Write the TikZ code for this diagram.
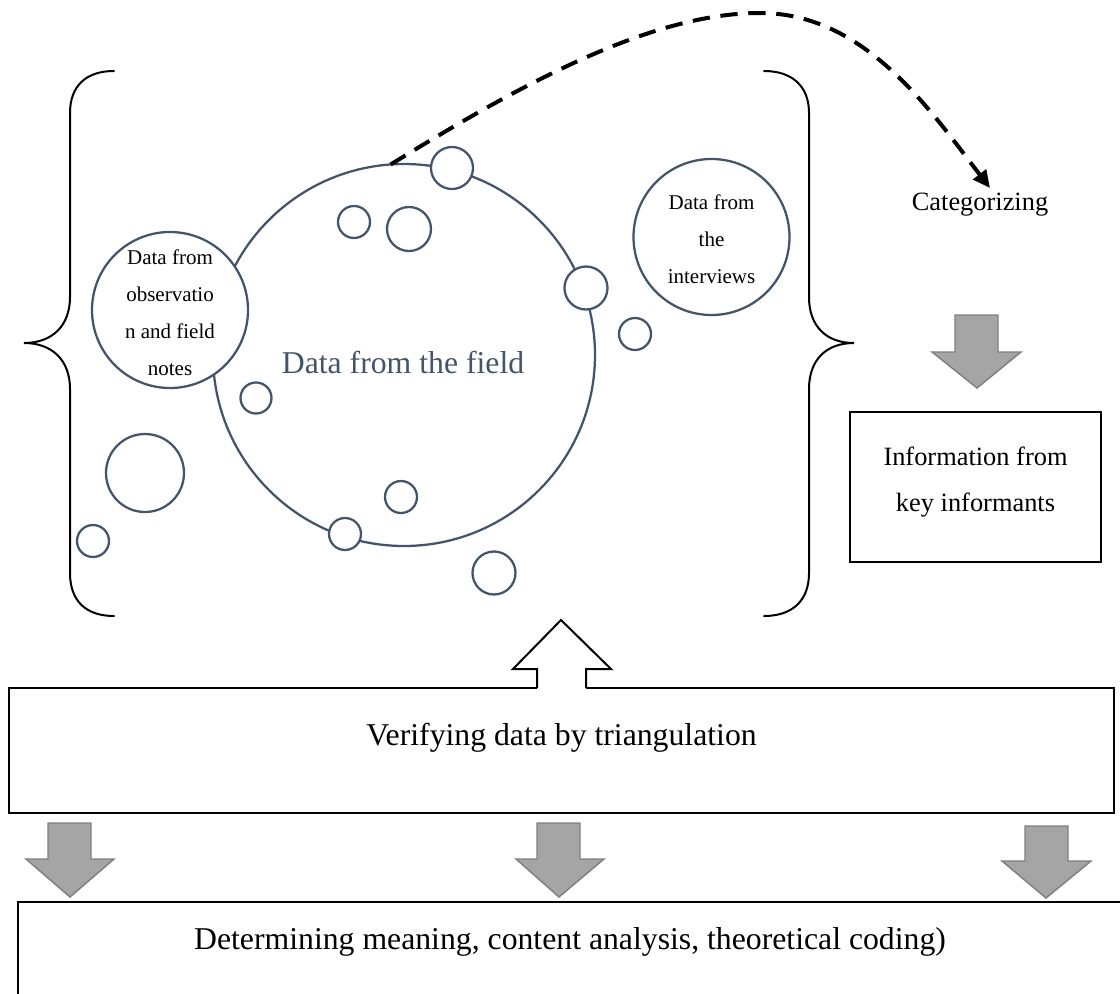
\documentclass[tikz,border=0pt]{standalone}
\usepackage{fontspec}
\setmainfont{Liberation Serif}
\usetikzlibrary{arrows.meta}
\definecolor{slate}{HTML}{44546A}
\definecolor{arrowfill}{HTML}{A5A5A5}
\definecolor{arrowedge}{HTML}{7F7F7F}
\begin{document}
\begin{tikzpicture}[x=0.75pt,y=-0.75pt,
  bubble/.style={circle,draw=slate,line width=1.7pt,fill=white,inner sep=0pt,outer sep=0pt,minimum size=#1*1.5pt},
  bracepath/.style={draw=black,line width=1.5pt,line cap=round},
  blockarrow/.style={fill=arrowfill,draw=arrowedge,line width=1.1pt,line join=miter},
  frame/.style={rectangle,draw=black,fill=white,inner sep=0pt,outer sep=0pt},
  smalltext/.style={font=\fontsize{15.75}{27.75}\selectfont,align=center,inner sep=0pt},
  midtext/.style={font=\fontsize{19.8}{34.5}\selectfont,align=center,inner sep=0pt},
  bigtext/.style={font=\fontsize{23.8}{28}\selectfont,align=center,inner sep=0pt},
  dashconn/.style={line width=3pt,dash pattern=on 13pt off 8pt,-{Triangle[length=13pt,width=12pt]}}]
\useasboundingbox (0,0) rectangle (1120,993);
\clip (0,0) rectangle (1120,993);

% braces around the field data
\path[bracepath] (114,71) .. controls (86,71) and (70,86) .. (70,113) -- (70,297)
  .. controls (70,326) and (52,343) .. (24,343)
  .. controls (52,343) and (70,360) .. (70,389) -- (70,573)
  .. controls (70,601) and (86,616) .. (114,616);
\path[bracepath] (764,71) .. controls (792,71) and (809,86) .. (809,113) -- (809,297)
  .. controls (809,326) and (826,343) .. (854,343)
  .. controls (826,343) and (809,360) .. (809,389) -- (809,573)
  .. controls (809,601) and (792,616) .. (764,616);

% the field and the data bubbles
\node[bubble=191] (field) at (404,355) {};
\node[bubble=21]   (b1)  at (452,168) {};
\node[bubble=16]   (b2)  at (354,222) {};
\node[bubble=22]   (b3)  at (409,229) {};
\node[bubble=21.5] (b4)  at (586,288) {};
\node[bubble=16]   (b5)  at (635,334) {};
\node[bubble=15.5] (b6)  at (256,398) {};
\node[bubble=39]   (b7)  at (145,473) {};
\node[bubble=16]   (b8)  at (93,541) {};
\node[bubble=16]   (b9)  at (345,534) {};
\node[bubble=16]   (b10) at (401,497) {};
\node[bubble=21.5] (b11) at (494,573) {};
\node[bubble=78]   (obs)  at (170,310) {};
\node[bubble=78]   (intv) at (711.5,237) {};

\node[smalltext] (obstxt) at (170,313) {Data from\\observatio\\n and field\\notes};
\node[smalltext] (intvtxt) at (711.5,239) {Data from\\the\\interviews};
\node[bigtext,text=slate] (fieldtxt) at (403,362) {Data from the field};

% categorizing step
\node[midtext] (cat) at (980,205) {Categorizing};
\coordinate (catin) at (990,188);
\draw[dashconn] (field.94.5) .. controls (520,85) and (650,13) .. (760,13)
  .. controls (865,13) and (930,110) .. (catin);

\draw[blockarrow] (955,315) -- (998,315) -- (998,352) -- (1021,352) -- (977,388)
  -- (932,352) -- (955,352) -- cycle;

\node[frame,line width=2pt,minimum width=188.25pt,minimum height=112.5pt] (info) at (975.5,487) {};
\node[midtext] (infotxt) at (975.5,482) {Information from\\key informants};

% triangulation
\node[frame,line width=1.5pt,minimum width=828.75pt,minimum height=93.75pt] (verify) at (561.5,750.5) {};
\node[bigtext] (verifytxt) at (561.5,738) {Verifying data by triangulation};

\fill[white] (537,690) -- (537,669) -- (513,669) -- (561,620) -- (611,669) -- (586,669) -- (586,690) -- cycle;
\draw[line width=1.5pt,line join=miter] (537,688) -- (537,669) -- (513,669) -- (561,620)
  -- (611,669) -- (586,669) -- (586,688);

% analysis
\node[frame,line width=1.5pt,minimum width=841.5pt,minimum height=81pt] (analysis) at (579,956) {};
\node[bigtext] (analysistxt) at (570,942) {Determining meaning, content analysis, theoretical coding)};

\draw[blockarrow] (48,823) -- (91,823) -- (91,859) -- (114,859) -- (70,897)
  -- (26,859) -- (48,859) -- cycle;
\draw[blockarrow] (537,823) -- (580,823) -- (580,859) -- (604,859) -- (559,897)
  -- (516,859) -- (537,859) -- cycle;
\draw[blockarrow] (1025,826) -- (1068,826) -- (1068,861) -- (1091,861) -- (1046,898)
  -- (1002,861) -- (1025,861) -- cycle;
\end{tikzpicture}
\end{document}
